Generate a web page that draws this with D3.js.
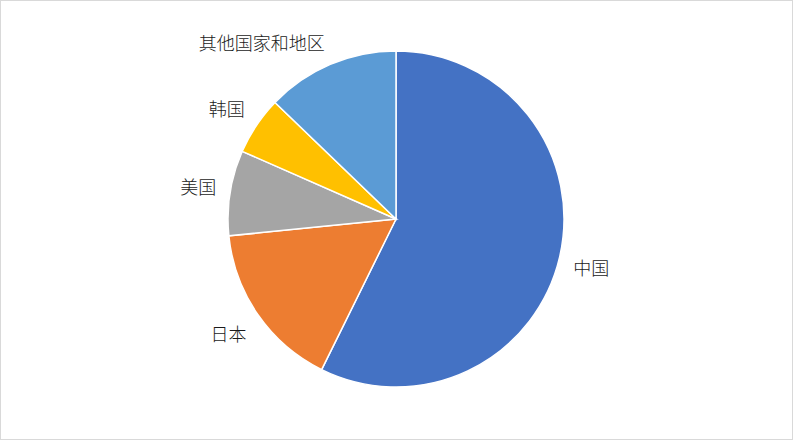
<!DOCTYPE html>
<html>
<head>
<meta charset="utf-8">
<script src="https://cdn.jsdelivr.net/npm/d3@7"></script>
<style>
  body { margin: 0; background: #fff; }
</style>
</head>
<body>
<div id="chart"></div>
<script>
var svgWidth = 793;
var svgHeight = 440;

// data (share, %)
var regions = ["中国", "日本", "美国", "韩国", "其他国家和地区"];
var shares = [57.3, 16.1, 8.2, 5.6, 12.8];
var colors = ["#4472C4", "#ED7D31", "#A5A5A5", "#FFC000", "#5B9BD5"];

var cx = 396, cy = 219, radius = 168;

var svg = d3.select("#chart")
    .append("svg")
    .attr("width", svgWidth)
    .attr("height", svgHeight);

// chart frame
svg.append("rect")
    .attr("x", 0.5)
    .attr("y", 0.5)
    .attr("width", svgWidth - 1)
    .attr("height", svgHeight - 1)
    .attr("fill", "#fff")
    .attr("stroke", "#d9d9d9");

var pieData = d3.pie().sort(null).value(d => d)(shares);

var arc = d3.arc().innerRadius(0).outerRadius(radius);

var chartGroup = svg.append("g")
    .attr("transform", `translate(${cx}, ${cy})`);

chartGroup.selectAll("path")
    .data(pieData)
    .enter()
    .append("path")
    .attr("d", arc)
    .attr("fill", (d, i) => colors[i])
    .attr("stroke", "#fff")
    .attr("stroke-width", 1.5);

// labels outside the slices
var clamp = v => Math.max(-1, Math.min(1, v));
var labelR = radius + 14;
var lineH = 20;

var labels = chartGroup.selectAll("text")
    .data(pieData)
    .enter()
    .append("text")
    .attr("font-family", "'Noto Sans CJK SC', sans-serif")
    .attr("font-size", "18px")
    .attr("font-weight", 300)
    .attr("fill", "#1a1a1a")
    .attr("text-anchor", "middle")
    .attr("dominant-baseline", "central")
    .text((d, i) => regions[i]);

labels.each(function(d) {
    var a = (d.startAngle + d.endAngle) / 2;
    var w = this.getComputedTextLength();
    var s = Math.sin(a), c = Math.cos(a);
    var x = labelR * s + (w / 2) * clamp(3 * s);
    var y = -labelR * c - (lineH / 2) * clamp(3 * c);
    d3.select(this).attr("x", x).attr("y", y);
});
</script>
</body>
</html>
